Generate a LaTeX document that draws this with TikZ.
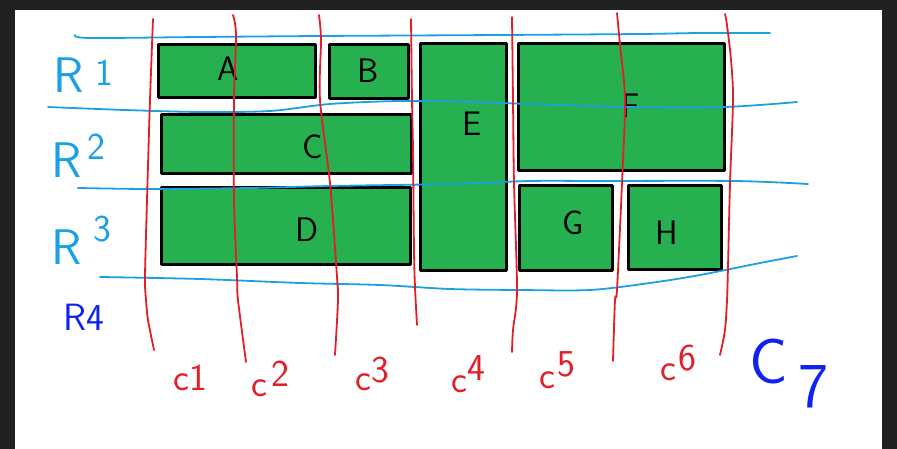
\documentclass[tikz,border=0pt]{standalone}
\usepackage{tikz}
\definecolor{boardbg}{RGB}{33,33,33}
\definecolor{cellgreen}{RGB}{38,176,80}
\definecolor{gridred}{RGB}{226,30,40}
\definecolor{rowblue}{RGB}{27,160,225}
\definecolor{inkblue}{RGB}{15,35,240}
\begin{document}
\begin{tikzpicture}[x=1pt, y=-1pt, font=\sffamily, line join=round, line cap=round,
	cell/.style={draw=black, line width=3pt, fill=cellgreen, inner sep=0pt},
	tag/.style={anchor=base, font=\sffamily\fontsize{34}{34}\selectfont},
	colline/.style={draw=gridred, line width=1.8pt},
	rowline/.style={draw=rowblue, line width=1.8pt},
	rowtag/.style={anchor=base west, text=rowblue, font=\sffamily\fontsize{50}{50}\selectfont},
	coltag/.style={anchor=base west, text=gridred, font=\sffamily\fontsize{38}{38}\selectfont}]
	\useasboundingbox (0,0) rectangle (897,449);
	\fill[boardbg] (0,0) rectangle (897,449);
	\fill[white] (15,10) rectangle (882,449);
	% cells
	\node[cell, minimum width=157pt, minimum height=53pt] (cellA) at (237,71) {};
	\node[cell, minimum width=79pt, minimum height=54pt] (cellB) at (369,71.5) {};
	\node[cell, minimum width=250pt, minimum height=59pt] (cellC) at (286.5,144) {};
	\node[cell, minimum width=249pt, minimum height=77pt] (cellD) at (286,226) {};
	\node[cell, minimum width=86pt, minimum height=227pt] (cellE) at (463.5,157) {};
	\node[cell, minimum width=206pt, minimum height=127pt] (cellF) at (621.5,107) {};
	\node[cell, minimum width=93pt, minimum height=85pt] (cellG) at (566,228) {};
	\node[cell, minimum width=93pt, minimum height=84pt] (cellH) at (675,227.5) {};
	\node[tag] (A) at (228,81) {A};
	\node[tag] (B) at (368,83) {B};
	\node[tag] (C) at (313,159) {C};
	\node[tag] (D) at (307,241) {D};
	\node[tag] (E) at (472,136) {E};
	\node[tag] (F) at (631,118) {F};
	\node[tag] (G) at (573,235) {G};
	\node[tag] (H) at (667,245) {H};
	% row lines
	\draw[rowline] plot[smooth] coordinates {(75,35) (89,38) (200,37) (320,36) (500,35) (640,34) (700,33) (770,33)};
	\draw[rowline] plot[smooth] coordinates {(48,107) (125,110) (200,112) (270,111) (330,104) (400,101) (470,102) (530,104) (630,107) (725,107) (797,102)};
	\draw[rowline] plot[smooth] coordinates {(78,188) (150,189) (250,188) (330,186) (450,184) (530,181) (600,181) (735,181) (808,184)};
	\draw[rowline] plot[smooth] coordinates {(100,277) (200,279) (300,283) (380,285) (450,289) (520,290) (590,290) (650,283) (700,275) (760,263) (797,256)};
	% column lines
	\draw[colline] plot[smooth] coordinates {(153,19) (150,100) (147,200) (145,277) (146,300) (148,320) (154,350)};
	\draw[colline] plot[smooth] coordinates {(233,15) (236,35) (234,100) (234,200) (237,277) (238,300) (246,362)};
	\draw[colline] plot[smooth] coordinates {(319,15) (321,40) (320,100) (330,183) (337,277) (338,300) (335,355)};
	\draw[colline] plot[smooth] coordinates {(411,19) (412,100) (413,150) (414,250) (415,287) (417,325)};
	\draw[colline] plot[smooth] coordinates {(512,17) (513,100) (514,183) (517,290) (513,330) (512,352)};
	\draw[colline] plot[smooth] coordinates {(617,13) (620,45) (625,100) (622,183) (617,290) (615,300) (613,361)};
	\draw[colline] plot[smooth] coordinates {(725,14) (727,25) (731,60) (733,100) (730,183) (728,267) (727,300) (725,330) (720,355)};
	% row names
	\node[rowtag] (r1) at (50,93) {R\hspace{12pt}\raisebox{7pt}{\fontsize{38}{38}\selectfont 1}};
	\node[rowtag] (r2) at (48,178) {R\hspace{6pt}\raisebox{18pt}{\fontsize{38}{38}\selectfont 2}};
	\node[rowtag] (r3) at (48,265) {R\hspace{12pt}\raisebox{23pt}{\fontsize{38}{38}\selectfont 3}};
	\node[rowtag, text=inkblue, font=\sffamily\fontsize{38}{38}\selectfont] (r4) at (60,330) {R4};
	% column names
	\node[coltag] (c1) at (170,390) {c1};
	\node[coltag] (c2) at (248,396) {c\hspace{4pt}\raisebox{10pt}{2}};
	\node[coltag] (c3) at (352,390) {c\raisebox{8pt}{3}};
	\node[coltag] (c4) at (448,392) {c\raisebox{12pt}{4}};
	\node[coltag] (c5) at (536,388) {c\hspace{2pt}\raisebox{12pt}{5}};
	\node[coltag] (c6) at (657,380) {c\hspace{2pt}\raisebox{10pt}{6}};
	\node[coltag, text=inkblue, font=\sffamily\fontsize{64}{64}\selectfont] (c7) at (746,383) {C\hspace{10pt}\raisebox{-24pt}{7}};
\end{tikzpicture}
\end{document}
